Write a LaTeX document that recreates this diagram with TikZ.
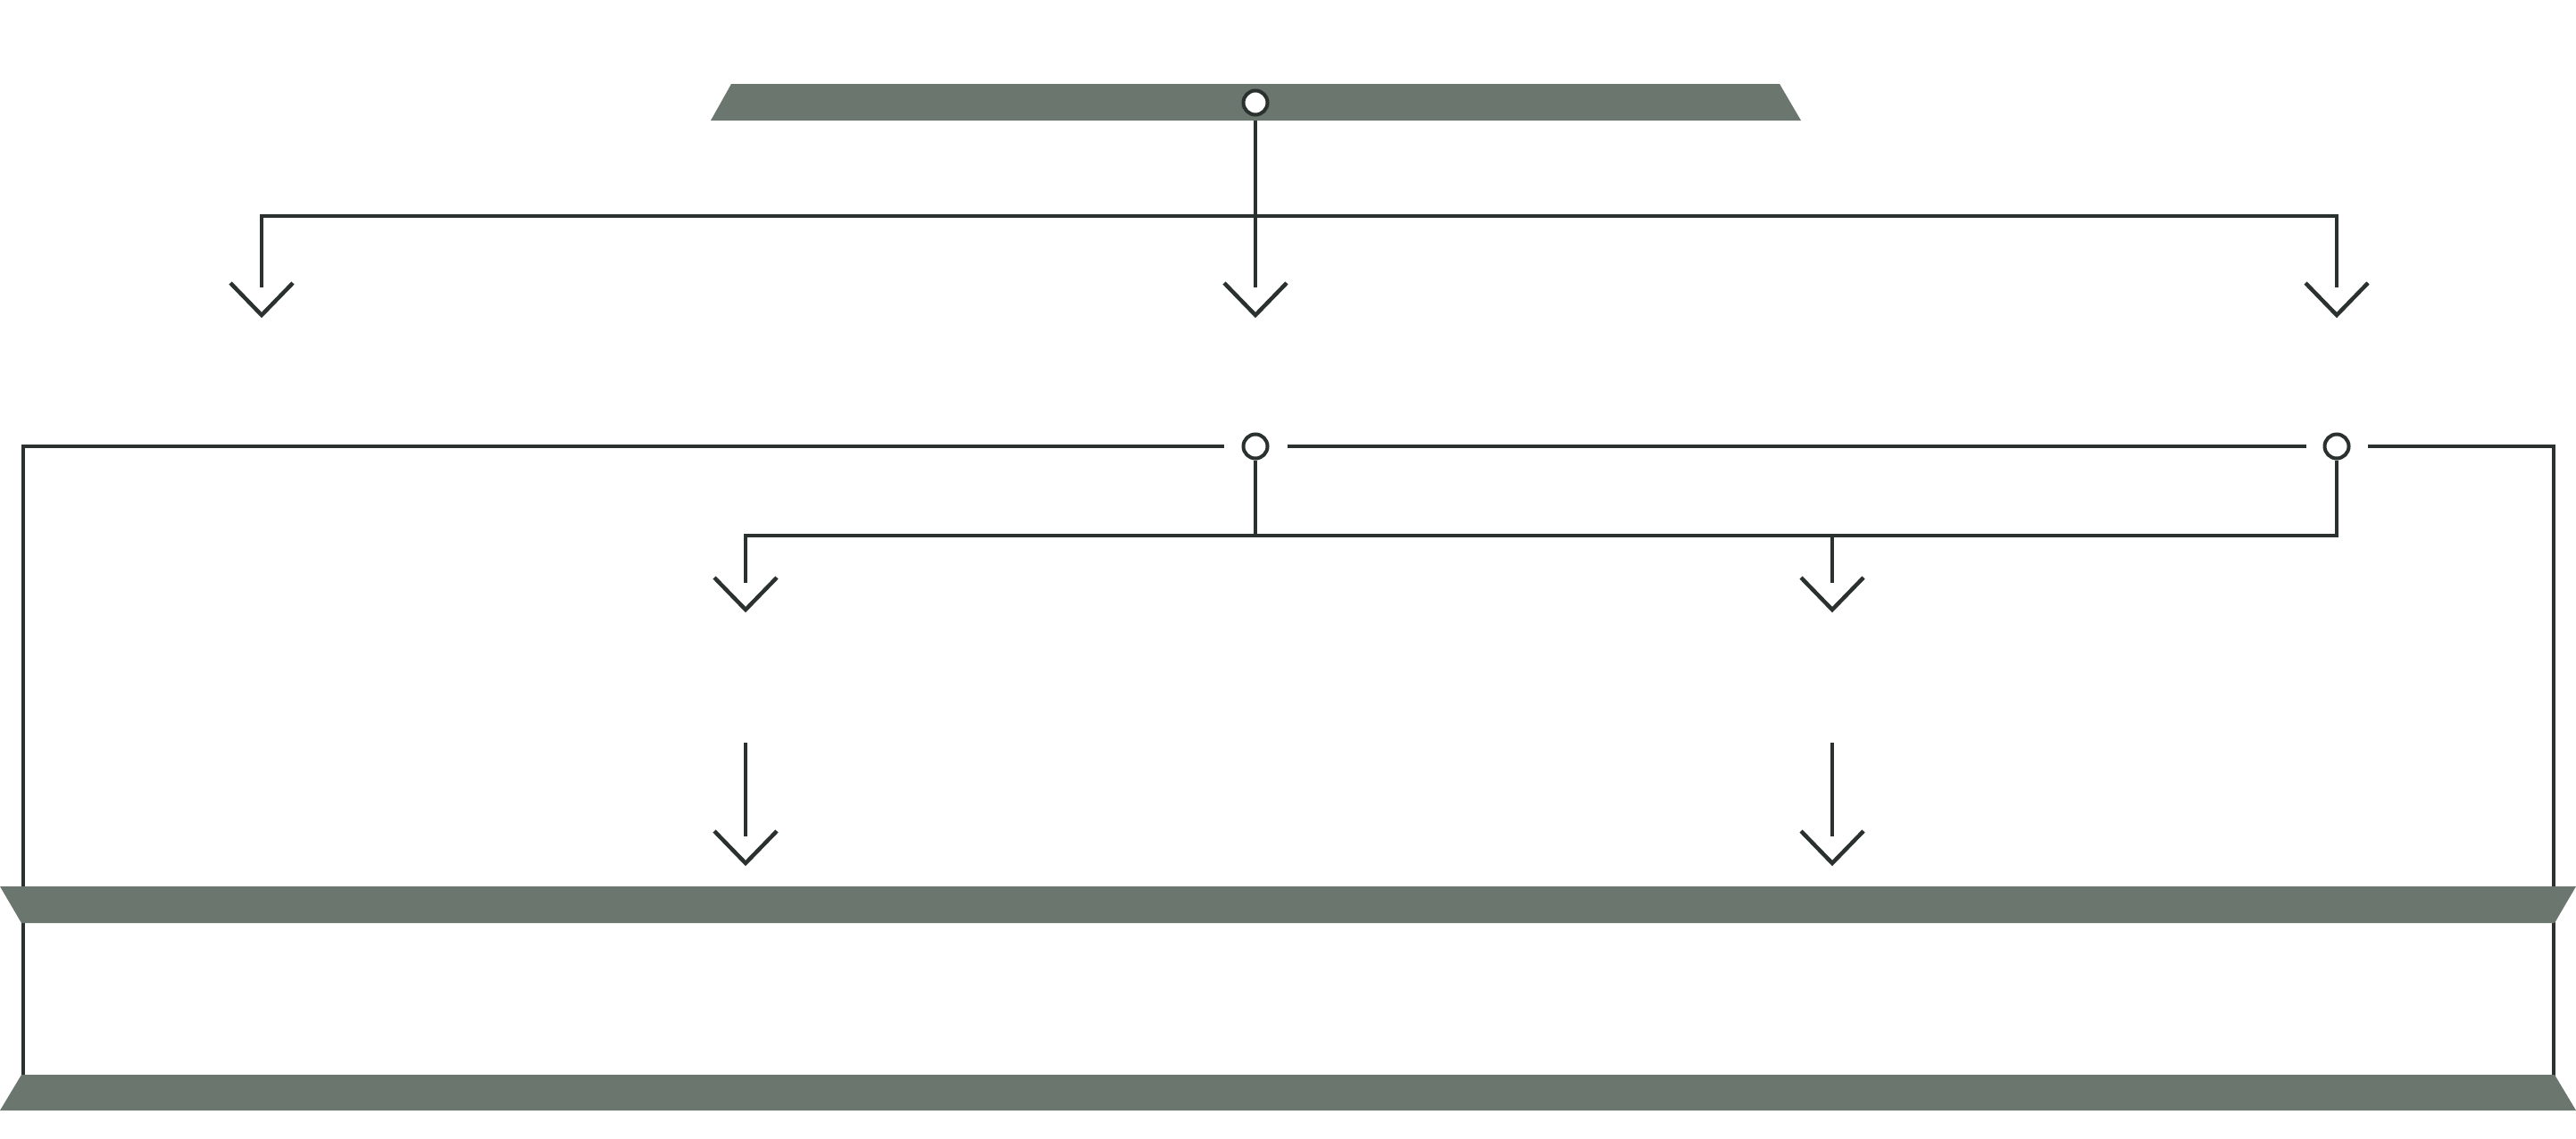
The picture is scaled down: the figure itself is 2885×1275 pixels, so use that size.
\documentclass[tikz,border=0pt]{standalone}
\definecolor{barfill}{HTML}{6A766E}
\definecolor{linecol}{HTML}{2A312E}
\pgfdeclarelayer{lines}
\pgfdeclarelayer{bars}
\pgfsetlayers{lines,bars,main}
\tikzset{
  conn/.style={draw=linecol, line width=0.045cm, line cap=butt, line join=miter},
  barshape/.style={fill=barfill, draw=none},
  joint/.style={circle, draw=linecol, fill=white, line width=0.04cm, minimum size=0.27cm, inner sep=0pt},
  chev/.pic={\draw[conn] (-35,-36) -- (0,0) -- (35,-36);}
}
\begin{document}
\begin{tikzpicture}[x=0.01cm,y=-0.01cm]
\useasboundingbox (0,0) rectangle (2885,1275);
% joints
\node[joint] (c1) at (1406,115) {};
\node[joint] (c2) at (1406,500) {};
\node[joint] (c3) at (2617,500) {};
% coordinates
\coordinate (h1) at (1406,242);
\coordinate (a1s) at (293,322);
\coordinate (a2s) at (1406,322);
\coordinate (a3s) at (2617,322);
\coordinate (a1t) at (293,353);
\coordinate (a2t) at (1406,353);
\coordinate (a3t) at (2617,353);
\coordinate (h2) at (1406,600);
\coordinate (h3) at (2052,600);
\coordinate (b1s) at (835,653);
\coordinate (b2s) at (2052,653);
\coordinate (b1t) at (835,683);
\coordinate (b2t) at (2052,683);
\coordinate (d1a) at (835,832);
\coordinate (d1s) at (835,937);
\coordinate (d2a) at (2052,832);
\coordinate (d2s) at (2052,937);
\coordinate (d1t) at (835,967);
\coordinate (d2t) at (2052,967);
\coordinate (g1) at (1371,500);
\coordinate (g2) at (1442,500);
\coordinate (g3) at (2583,500);
\coordinate (g4) at (2652,500);
\coordinate (lb) at (26,1212);
\coordinate (rb) at (2860,1212);
\begin{pgfonlayer}{lines}
\draw[conn] (c1) -- (a2s);
\draw[conn] (a1s) |- (h1) -| (a3s);
\draw[conn] (g1) -| (lb);
\draw[conn] (g2) -- (g3);
\draw[conn] (g4) -| (rb);
\draw[conn] (c2) -- (h2);
\draw[conn] (b1s) |- (h2) -| (c3);
\draw[conn] (h3) -- (b2s);
\draw[conn] (d1a) -- (d1s);
\draw[conn] (d2a) -- (d2s);
\pic at (a1t) {chev};
\pic at (a2t) {chev};
\pic at (a3t) {chev};
\pic at (b1t) {chev};
\pic at (b2t) {chev};
\pic at (d1t) {chev};
\pic at (d2t) {chev};
\end{pgfonlayer}
\begin{pgfonlayer}{bars}
\path[barshape] (796,135) -- (819,94) -- (1993,94) -- (2017,135) -- cycle;
\path[barshape] (0,993) -- (2885,993) -- (2861,1034) -- (24,1034) -- cycle;
\path[barshape] (24,1204) -- (2861,1204) -- (2885,1244) -- (0,1244) -- cycle;
\end{pgfonlayer}
\end{tikzpicture}
\end{document}
